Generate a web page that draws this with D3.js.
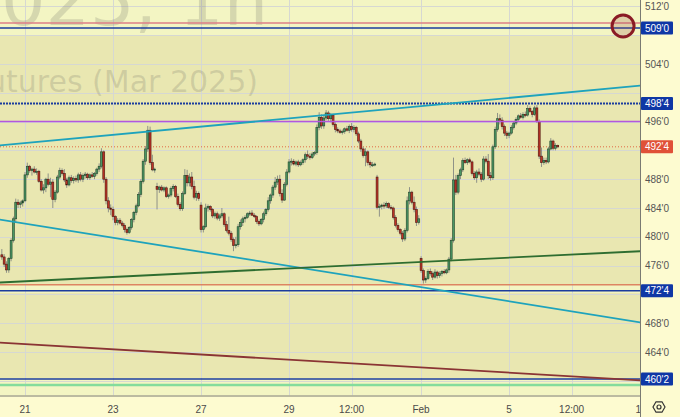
<!DOCTYPE html>
<html><head><meta charset="utf-8">
<script src="https://cdn.jsdelivr.net/npm/d3@7"></script>
<style>html,body{margin:0;padding:0;background:#fdfbd0;}svg{display:block}</style>
</head><body>
<svg id="c" width="680" height="417"></svg>
<script>
// ---- DATA (hourly bars, price in cents) ----
const opens = [
477.5,477.2,476.2,475.4,477.0,479.5,482.5,484.8,484.5,484.7,
485.0,488.6,489.8,489.2,489.4,489.0,489.1,487.7,486.5,486.8,
488.0,487.3,487.6,485.2,486.2,488.3,489.2,488.8,487.9,487.2,
488.2,487.8,488.1,487.9,488.6,488.0,488.5,488.7,488.2,488.6,
488.4,488.8,489.4,489.8,491.8,488.0,485.0,484.0,483.8,482.8,
482.0,482.3,481.9,481.6,481.0,480.6,481.3,482.4,483.4,484.3,
485.9,487.7,490.5,492.2,494.8,490.3,489.3,487.0,486.6,486.9,
486.5,486.8,485.6,485.8,486.7,487.0,485.6,484.5,483.9,486.0,
488.5,487.5,488.3,487.0,485.5,486.0,484.4,481.0,481.4,484.0,
484.2,483.8,482.9,483.2,482.6,482.9,483.2,481.7,480.9,480.5,
479.6,478.8,478.9,481.4,482.0,482.5,482.7,483.2,483.3,483.0,
482.8,482.1,481.8,482.4,483.2,483.8,485.0,485.8,486.9,487.6,
488.0,486.0,485.1,487.3,489.0,490.4,490.5,490.1,490.4,490.0,
490.3,490.7,491.4,491.2,491.0,491.5,491.7,495.2,496.6,495.4,
496.5,497.2,496.4,496.9,495.6,494.9,494.7,494.5,494.6,495.0,
494.8,495.3,494.9,495.2,494.3,493.3,492.2,491.3,491.8,490.3,
490.0,490.0,488.3,484.1,484.2,484.4,484.3,484.6,484.1,484.0,
482.7,481.6,481.0,480.5,479.7,480.9,485.0,486.2,484.8,483.8,
482.0,477.0,475.3,474.0,474.2,475.2,474.9,474.4,475.1,474.6,
474.9,475.2,475.0,475.4,476.9,479.5,487.9,486.2,488.5,489.3,
490.6,490.3,490.7,490.4,488.8,488.2,489.0,488.7,488.0,490.8,
490.5,488.5,488.2,492.5,494.9,496.4,496.2,495.3,494.4,494.1,
494.4,495.2,495.8,496.3,496.8,496.6,497.0,496.9,497.8,497.4,
497.0,497.9,496.0,491.2,490.3,490.6,490.4,492.2,493.3,492.3,492.7];
const highs = [
478.3,477.6,476.6,477.2,479.8,482.8,485.3,485.2,485.0,485.2,
489.0,490.3,490.0,489.6,489.8,489.5,489.3,488.0,487.3,488.2,
488.8,488.2,488.0,486.5,488.6,489.6,489.5,489.4,488.2,488.5,
488.6,488.4,488.5,488.9,489.0,488.8,489.0,488.9,488.8,489.0,
489.0,489.6,490.2,492.3,492.0,488.3,485.5,484.5,484.2,483.0,
482.6,482.6,482.2,481.9,481.3,481.5,482.6,483.6,484.6,486.2,
488.0,490.8,492.6,495.4,495.3,491.4,489.6,487.5,487.1,487.2,
487.0,487.0,486.0,487.0,487.3,487.2,486.0,484.8,486.3,489.4,
489.3,488.8,489.0,487.8,486.4,486.3,484.8,481.6,484.6,484.5,
484.4,484.0,483.5,483.5,483.2,484.0,483.4,482.2,482.8,480.8,
479.9,480.0,481.8,482.4,482.8,483.0,483.4,483.6,483.7,483.3,
483.0,482.4,482.6,483.5,484.0,485.5,486.0,487.2,488.3,488.5,
488.6,486.6,487.6,489.4,490.8,490.9,490.8,490.6,490.7,490.6,
490.9,491.7,492.0,491.6,491.8,491.9,495.6,497.3,497.0,496.8,
497.6,497.5,497.2,497.1,495.9,495.2,495.0,494.9,495.2,495.4,
495.6,495.8,495.5,495.4,494.6,493.6,492.5,492.3,492.0,490.6,
490.4,490.3,488.6,484.6,484.6,484.8,484.9,484.8,484.4,484.2,
483.0,481.9,481.2,480.8,481.2,485.6,486.9,486.4,485.6,484.2,
483.0,477.3,475.6,474.5,475.5,475.6,475.2,475.5,475.3,475.2,
475.4,475.5,475.6,477.2,479.8,491.0,488.6,488.8,489.6,490.9,
491.0,490.9,491.0,490.6,489.1,489.3,489.5,489.0,491.2,491.2,
491.5,489.0,492.8,495.3,497.2,497.0,496.6,495.6,494.7,494.6,
495.5,496.0,496.6,497.0,497.2,497.3,497.4,498.3,498.1,497.6,
498.2,498.3,496.3,492.4,491.0,491.0,492.5,493.7,493.5,493.0,492.8];
const lows = [
476.8,475.8,475.0,475.0,476.6,479.2,482.0,484.0,484.0,484.2,
484.8,488.2,488.9,488.5,488.8,488.6,487.5,486.3,486.0,486.2,
487.0,485.5,484.0,484.8,486.0,488.0,488.5,487.6,486.8,487.0,
487.5,487.4,487.6,487.5,487.7,487.6,488.1,487.9,487.9,488.2,
488.0,488.5,489.0,489.5,487.5,484.5,483.4,483.0,482.3,481.6,
481.6,481.7,481.3,480.6,480.3,480.4,481.0,482.0,483.0,484.1,
485.5,487.4,490.0,491.8,490.0,489.1,488.9,483.8,486.1,486.3,
486.2,485.4,485.3,485.5,486.3,485.4,484.2,483.6,483.6,485.8,
487.0,487.0,486.6,485.2,485.0,485.0,480.6,480.6,481.2,483.5,
483.5,482.6,482.5,482.3,482.2,482.6,481.4,480.6,480.2,479.3,
478.0,478.4,478.6,481.0,481.5,482.0,482.5,482.9,482.9,482.6,
481.8,481.5,481.6,482.0,482.9,483.5,484.6,485.4,486.5,487.2,
485.6,484.7,485.0,487.0,488.8,489.9,489.9,489.8,489.7,489.8,
490.0,490.3,490.8,490.7,490.8,491.2,491.4,494.8,495.0,495.0,
496.2,496.1,495.9,495.3,494.5,494.4,494.3,494.2,494.3,494.6,
494.4,494.6,494.5,494.0,493.0,491.8,491.0,489.8,489.9,489.6,
489.7,489.8,483.8,482.8,483.8,483.9,484.0,483.9,483.7,482.4,
481.3,480.7,480.2,479.3,479.4,480.6,484.5,484.5,483.4,481.5,
481.7,475.0,473.5,473.6,474.0,474.6,474.0,474.2,474.2,474.3,
474.5,474.8,474.8,475.0,476.6,479.2,485.8,485.9,488.0,489.0,
490.1,490.0,490.2,488.5,487.9,487.5,488.4,487.6,487.8,490.2,
488.0,487.8,487.9,492.2,494.6,495.6,494.9,494.0,493.6,493.7,
494.2,494.9,495.5,496.0,496.4,496.3,496.6,496.7,497.2,496.6,
496.8,495.8,490.8,489.7,490.0,490.1,490.2,492.0,492.0,492.0,492.3];
const closes = [
477.2,476.2,475.4,477.0,479.5,482.5,484.8,484.5,484.7,485.0,
488.6,489.8,489.2,489.4,489.0,489.1,487.7,486.5,486.8,488.0,
487.3,487.6,485.2,486.2,488.3,489.2,488.8,487.9,487.2,488.2,
487.8,488.1,487.9,488.6,488.0,488.5,488.7,488.2,488.6,488.4,
488.8,489.4,489.8,491.8,488.0,485.0,484.0,483.8,482.8,482.0,
482.3,481.9,481.6,481.0,480.6,481.3,482.4,483.4,484.3,485.9,
487.7,490.5,492.2,494.8,490.3,489.3,489.4,486.6,486.9,486.5,
486.8,485.6,485.8,486.7,487.0,485.6,484.5,483.9,486.0,488.5,
487.5,488.3,487.0,485.5,486.0,485.3,481.0,481.4,484.0,484.2,
483.8,482.9,483.2,482.6,482.9,483.2,481.7,480.9,480.5,479.6,
478.8,478.9,481.4,482.0,482.5,482.7,483.2,483.3,483.0,482.8,
482.1,481.8,482.4,483.2,483.8,485.0,485.8,486.9,487.6,488.0,
486.0,485.1,487.3,489.0,490.4,490.5,490.1,490.4,490.0,490.3,
490.7,491.4,491.2,491.0,491.5,491.7,495.2,496.6,495.4,496.5,
497.2,496.4,496.9,495.6,494.9,494.7,494.5,494.6,495.0,494.8,
495.3,494.9,495.2,494.3,493.3,492.2,491.3,491.8,490.3,490.0,
490.0,490.1,484.1,484.2,484.4,484.3,484.6,484.1,484.0,482.7,
481.6,481.0,480.5,479.7,480.9,485.0,486.2,484.8,483.8,482.0,
482.5,475.3,474.0,474.2,475.2,474.9,474.4,475.1,474.6,474.9,
475.2,475.0,475.4,476.9,479.5,487.9,486.2,488.5,489.3,490.6,
490.3,490.7,490.4,488.8,488.2,489.0,488.7,488.0,490.8,490.5,
488.5,488.2,492.5,494.9,496.4,496.2,495.3,494.4,494.1,494.4,
495.2,495.8,496.3,496.8,496.6,497.0,496.9,497.8,497.4,497.0,
497.9,496.0,491.2,490.3,490.6,490.4,492.2,493.3,492.3,492.7,492.5];

const priceTicks = [512,508,504,500,496,492,488,484,480,476,472,468,464,460];
const timeTickBars = [10,48,86,124,151,181,219,246,276];
const timeTickLabels = ["21","23","27","29","12:00","Feb","5","12:00","10"];

// horizontal level drawings
const levelPrices = [509.7, 509, 498.5, 496, 473.35, 472.5, 460.25, 459.4];
const levelColors = ["#de7f86","#1b3c9e","#1b3c9e","#b457dc","#dd8562","#1b3c9e","#1b3c9e","#84dc9c"];
const levelDash   = [null,null,"2,1",null,null,null,null,null];
const levelWidths = [1.5,1.5,2,1.5,1.5,1.5,1.5,2.5];
const lastPrice = 492.5;

// sloped trend lines: [bar, price] endpoints
const trendNames = ["upperChannel","lowerChannel","greenSupport","brownTrend"];
const trendStart = [[-1,492.7],[-1,482.4],[-1,473.65],[-1,465.3]];
const trendEnd   = [[276,501.0],[276,468.1],[276,478.0],[276,460.05]];
const trendColors = ["#1ea3bc","#1ea3bc","#2e6d30","#8a3434"];

// price labels on scale
const tagPrices = [509, 498.5, 492.5, 472.5, 460.25];
const tagColors = ["#0f37a5","#0f37a5","#e05138","#0f37a5","#0f37a5"];

// shaded zones (price ranges)
const zoneTop = [508.0, 472.2];
const zoneBottom = [473.35, 460.4];

// circle annotation
const circleBar = 268.2, circlePrice = 509.28;

// ---- DRAW ----
const PW = 640, PH = 395.5;
const svg = d3.select("#c");
const x = d3.scaleLinear().domain([0,240]).range([1.84,557.74]);
const y = d3.scaleLinear().domain([460.25,509]).range([379,28]);
const step = x(1)-x(0);

const fmt = p => { const i = Math.floor(p + 1e-9); const f = Math.round((p - i)*8); return i + "'" + f; };

svg.append("defs").append("clipPath").attr("id","plot")
  .append("rect").attr("x",0).attr("y",0).attr("width",PW).attr("height",PH);

svg.append("rect").attr("x",0).attr("y",0).attr("width",680).attr("height",417).attr("fill","#fdfbd0");
const plot = svg.append("g").attr("clip-path","url(#plot)");
plot.append("rect").attr("x",0).attr("y",0).attr("width",PW).attr("height",PH).attr("fill","#f3f5c3");
plot.selectAll("rect.zone").data(zoneTop).join("rect").attr("class","zone")
  .attr("x",0).attr("width",PW)
  .attr("y",(d,i)=>y(d)).attr("height",(d,i)=>y(zoneBottom[i])-y(d))
  .attr("fill","#e9e7b1");

// gridlines
plot.selectAll("line.hg").data(priceTicks).join("line").attr("class","hg")
  .attr("x1",0).attr("x2",PW).attr("y1",d=>Math.round(y(d))+0.5).attr("y2",d=>Math.round(y(d))+0.5)
  .attr("stroke","#d6d8d2").attr("stroke-width",1);
plot.selectAll("line.vg").data(timeTickBars).join("line").attr("class","vg")
  .attr("y1",0).attr("y2",PH).attr("x1",d=>Math.round(x(d))+0.5).attr("x2",d=>Math.round(x(d))+0.5)
  .attr("stroke","#d6d8d2").attr("stroke-width",1);

// watermark
plot.append("text").attr("x",268).attr("y",25).attr("text-anchor","end")
  .attr("font-family","DejaVu Sans, sans-serif").attr("font-size",70)
  .attr("fill","rgba(110,110,100,0.22)").text("ZCH2025, 1h");
plot.append("text").attr("x",258).attr("y",92).attr("text-anchor","end")
  .attr("font-family","DejaVu Sans, sans-serif").attr("font-size",30)
  .attr("fill","rgba(110,110,100,0.22)").text("Corn Futures (Mar 2025)");

// current price dotted line
plot.append("line").attr("x1",0).attr("x2",PW).attr("y1",y(lastPrice)).attr("y2",y(lastPrice))
  .attr("stroke","#e06a45").attr("stroke-width",1).attr("stroke-dasharray","1,2");

// candles
const idx = d3.range(closes.length);
const cg = plot.append("g");
cg.selectAll("line.wick").data(idx).join("line").attr("class","wick")
  .attr("x1",i=>x(i)).attr("x2",i=>x(i))
  .attr("y1",i=>y(highs[i])).attr("y2",i=>y(lows[i]))
  .attr("stroke","#8f9288").attr("stroke-width",1);
cg.selectAll("rect.body").data(idx).join("rect").attr("class","body")
  .attr("x",i=>x(i)-step*0.42).attr("width",step*0.84)
  .attr("y",i=>y(Math.max(opens[i],closes[i])))
  .attr("height",i=>Math.max(1,Math.abs(y(opens[i])-y(closes[i]))))
  .attr("fill",i=>closes[i]>=opens[i]?"#4a9663":"#bd3326")
  .attr("stroke",i=>closes[i]>=opens[i]?"#22452c":"#4e1710")
  .attr("stroke-width",0.6);

// horizontal levels
plot.selectAll("line.lvl").data(levelPrices).join("line").attr("class","lvl")
  .attr("x1",0).attr("x2",PW).attr("y1",d=>y(d)).attr("y2",d=>y(d))
  .attr("stroke",(d,i)=>levelColors[i]).attr("stroke-width",(d,i)=>levelWidths[i])
  .attr("stroke-dasharray",(d,i)=>levelDash[i]);

// trend lines
plot.selectAll("line.tr").data(trendNames).join("line").attr("class","tr")
  .attr("x1",(d,i)=>x(trendStart[i][0])).attr("y1",(d,i)=>y(trendStart[i][1]))
  .attr("x2",(d,i)=>x(trendEnd[i][0])).attr("y2",(d,i)=>y(trendEnd[i][1]))
  .attr("stroke",(d,i)=>trendColors[i]).attr("stroke-width",1.8);

// circle annotation
plot.append("circle").attr("cx",x(circleBar)).attr("cy",y(circlePrice)).attr("r",11)
  .attr("fill","rgba(150,70,70,0.22)").attr("stroke","#8a1b25").attr("stroke-width",3);

// axes panels
svg.append("rect").attr("x",PW).attr("y",0).attr("width",40).attr("height",417).attr("fill","#fdfbd0");
svg.append("rect").attr("x",0).attr("y",PH).attr("width",PW).attr("height",417-PH).attr("fill","#fdfbd0");

// time labels (clipped at price axis)
svg.append("defs").append("clipPath").attr("id","tclip")
  .append("rect").attr("x",0).attr("y",PH).attr("width",PW).attr("height",30);
svg.append("g").attr("clip-path","url(#tclip)")
  .selectAll("text").data(timeTickBars).join("text")
  .attr("x",d=>x(d)).attr("y",413).attr("text-anchor","middle")
  .attr("font-family","Liberation Sans, Arial, sans-serif").attr("font-size",10).attr("fill","#4a4a4a")
  .text((d,i)=>timeTickLabels[i]);

svg.append("line").attr("x1",0).attr("x2",PW+0.5).attr("y1",PH+0.5).attr("y2",PH+0.5).attr("stroke","#7a7a72").attr("stroke-width",1);
svg.append("line").attr("x1",PW+0.5).attr("x2",PW+0.5).attr("y1",0).attr("y2",417).attr("stroke","#7a7a72").attr("stroke-width",1);

// price tick labels (those hidden under a price tag are skipped)
const visibleTicks = priceTicks.filter(p => tagPrices.every(t => Math.abs(y(p)-y(t)) > 11));
svg.selectAll("text.pt").data(visibleTicks).join("text").attr("class","pt")
  .attr("x",657).attr("y",d=>y(d)+3.5).attr("text-anchor","middle")
  .attr("font-family","Liberation Sans, Arial, sans-serif").attr("font-size",10).attr("fill","#555")
  .text(d=>fmt(d));

// price tags
const tg = svg.selectAll("g.tag").data(tagPrices).join("g").attr("class","tag");
tg.append("rect").attr("x",641).attr("width",32).attr("y",d=>y(d)-6.5).attr("height",13)
  .attr("rx",1).attr("fill",(d,i)=>tagColors[i]);
tg.append("text").attr("x",657).attr("y",d=>y(d)+3.5).attr("text-anchor","middle")
  .attr("font-family","Liberation Sans, Arial, sans-serif").attr("font-size",10).attr("fill","#fff")
  .text(d=>fmt(d));

// gear icon
const gx = 659, gy = 407, gr = 6;
const hex = d3.range(6).map(k=>[gx+gr*Math.cos(Math.PI/3*k), gy+gr*Math.sin(Math.PI/3*k)]);
svg.append("path").attr("d",d3.line()(hex)+"Z").attr("fill","none").attr("stroke","#333").attr("stroke-width",1.2);
svg.append("circle").attr("cx",gx).attr("cy",gy).attr("r",2).attr("fill","none").attr("stroke","#333").attr("stroke-width",1.2);
</script>
</body></html>
